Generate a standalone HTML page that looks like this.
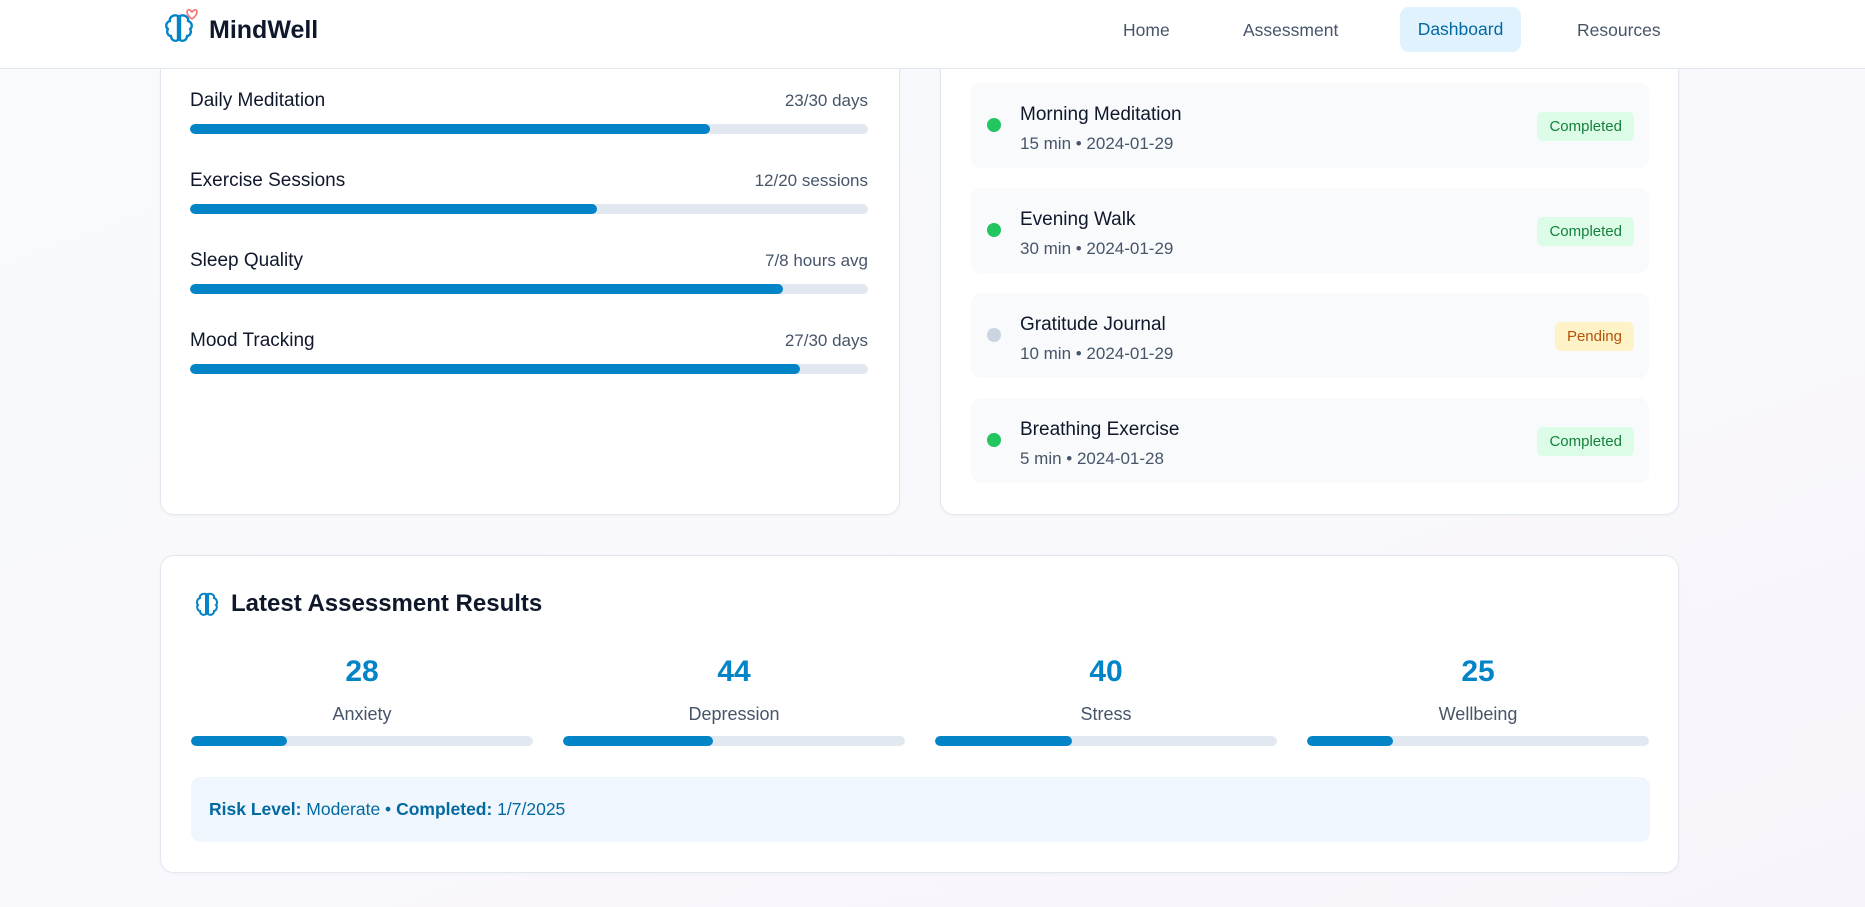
<!DOCTYPE html>
<html><head><meta charset="utf-8">
<style>
*{box-sizing:border-box;margin:0;padding:0}
body{width:1865px;height:907px;overflow:hidden;font-family:"Liberation Sans",sans-serif;background:linear-gradient(160deg,#f8fafc 0%,#f9f8fc 60%,#f8f4fb 100%);position:relative;color:#0f172a}
.abs{position:absolute}
.header{left:0;top:0;width:1865px;height:69px;background:#fff;border-bottom:1.5px solid #e2e8f0;z-index:5}
.card{background:#fff;border:1.5px solid #e2e8f0;border-radius:14px;box-shadow:0 1px 3px rgba(0,0,0,0.04)}
.lbl{font-size:19px;color:#0f172a}
.val{font-size:17px;color:#475569;text-align:right}
.track{height:10px;background:#e2e8f0;border-radius:5px;overflow:hidden}
.fill{height:100%;background:#0284c7;border-radius:5px}
.item{background:#f8fafc;border-radius:10px;left:971px;width:678px;height:85px}
.dot{width:14px;height:14px;border-radius:50%;left:16px;top:35px}
.ititle{left:49px;top:21px;font-size:19px;color:#0f172a}
.isub{left:49px;top:51px;font-size:17px;color:#475569}
.badge{top:29px;height:29px;border-radius:6px;font-size:15px;line-height:29px;padding:0 12px}
.nav{top:20px;font-size:17.5px;color:#475569}
</style></head><body>
<div class="abs" style="left:330px;top:10px;width:90px;height:50px;background:rgba(0,0,0,0.05);filter:blur(14px);border-radius:30px"></div>
<div class="abs" style="left:975px;top:15px;width:250px;height:40px;background:rgba(0,0,0,0.05);filter:blur(14px);border-radius:30px"></div>

<div class="abs header">
  <svg class="abs" style="left:161px;top:6px" width="44" height="44" viewBox="0 0 44 44">
    <path d="M17 10c-4-2-9 1-8 5-4 1-5 6-2 8-2 3 0 7 3 7 0 4 4 6 7 4V10z" fill="none" stroke="#0284c7" stroke-width="2.4" stroke-linejoin="round"/>
    <path d="M19 10c4-2 9 1 8 5 4 1 5 6 2 8 2 3 0 7-3 7 0 4-4 6-7 4V10z" fill="none" stroke="#0284c7" stroke-width="2.4" stroke-linejoin="round"/>
    <path d="M31 13c-3-2-5-5-5-7 0-2 2-3 3.5-1.5L31 6l1.5-1.5C34 3 36 4 36 6c0 2-2 5-5 7z" fill="#fff" stroke="#f87171" stroke-width="1.6"/>
  </svg>
  <div class="abs" style="left:209px;top:16px;font-size:25px;font-weight:bold;color:#0f172a">MindWell</div>
  <div class="abs nav" style="left:1123px">Home</div>
  <div class="abs nav" style="left:1243px">Assessment</div>
  <div class="abs" style="left:1400px;top:7px;width:121px;height:45px;background:#e0f2fe;border-radius:9px;color:#0369a1;font-size:17.5px;text-align:center;line-height:45px">Dashboard</div>
  <div class="abs nav" style="left:1577px">Resources</div>
</div>

<div class="abs card" style="left:160px;top:20px;width:740px;height:495px"></div>
<div class="abs card" style="left:940px;top:20px;width:739px;height:495px"></div>

<div id="goals"></div>
<div id="acts"></div>

<div class="abs card" style="left:160px;top:555px;width:1519px;height:318px">
  <svg class="abs" style="left:31px;top:34px" width="30" height="30" viewBox="0 0 30 30">
    <path d="M14 4c-3-1-7 1-6 4-3 1-4 5-2 7-2 2 0 6 2 6 0 3 3 5 6 3V4z M16 4c3-1 7 1 6 4 3 1 4 5 2 7 2 2 0 6-2 6 0 3-3 5-6 3V4z" fill="none" stroke="#0284c7" stroke-width="2"/>
  </svg>
  <div class="abs" style="left:70px;top:34px;font-size:24px;font-weight:bold;color:#0f172a">Latest Assessment Results</div>
  <div class="abs" style="left:30px;top:221px;width:1459px;height:65px;background:#eff6fe;border-radius:10px;font-size:17.5px;color:#0369a1;line-height:65px;padding-left:18px"><b>Risk Level:</b> Moderate • <b>Completed:</b> 1/7/2025</div>
</div>
<div id="scores"></div>

<script>
const goalLabels=["Daily Meditation","Exercise Sessions","Sleep Quality","Mood Tracking"];
const goalText=["23/30 days","12/20 sessions","7/8 hours avg","27/30 days"];
const goalDone=[23,12,7,27];
const goalTotal=[30,20,8,30];
const actTitles=["Morning Meditation","Evening Walk","Gratitude Journal","Breathing Exercise"];
const actSubs=["15 min • 2024-01-29","30 min • 2024-01-29","10 min • 2024-01-29","5 min • 2024-01-28"];
const actStatus=["Completed","Completed","Pending","Completed"];
const scoreLabels=["Anxiety","Depression","Stress","Wellbeing"];
const scoreValues=[28,44,40,25];

const g=document.getElementById('goals');
goalLabels.forEach((l,i)=>{
  const y=86+i*80;
  const lab=document.createElement('div');lab.className='abs lbl';lab.style.cssText=`left:190px;top:${y+4}px`;lab.textContent=l;
  
  
  const v=document.createElement('div');v.className='abs val';v.style.cssText=`left:668px;width:200px;top:${y+5}px`;v.textContent=goalText[i];
  
  
  const t=document.createElement('div');t.className='abs track';t.style.cssText=`left:190px;width:678px;top:${y+38}px`;
  
  
  const f=document.createElement('div');f.className='fill';f.style.width=(goalDone[i]/goalTotal[i]*100)+'%';
  
  
  t.appendChild(f);g.append(lab,v,t);
});
const a=document.getElementById('acts');
actTitles.forEach((tt,i)=>{
  const it=document.createElement('div');it.className='abs item';it.style.top=(83+i*105)+'px';
  
  
  const done=actStatus[i]==='Completed';
  it.innerHTML=`<div class="abs dot" style="background:${done?'#22c55e':'#cbd5e1'}"></div>
  <div class="abs ititle">${tt}</div>
  <div class="abs isub">${actSubs[i]}</div>
  <div class="abs badge" style="right:15px;background:${done?'#dcfce7':'#fef3c7'};color:${done?'#15803d':'#b45309'}">${actStatus[i]}</div>`;
  a.appendChild(it);
});
const s=document.getElementById('scores');
scoreLabels.forEach((l,i)=>{
  const x=191+i*372;
  const n=document.createElement('div');n.className='abs';n.style.cssText=`left:${x}px;width:342px;top:655px;text-align:center;font-size:30px;font-weight:bold;color:#0284c7`;n.textContent=scoreValues[i];
  
  
  const lb=document.createElement('div');lb.className='abs';lb.style.cssText=`left:${x}px;width:342px;top:704px;text-align:center;font-size:18px;color:#475569`;lb.textContent=l;
  
  
  const t=document.createElement('div');t.className='abs track';t.style.cssText=`left:${x}px;width:342px;top:736px`;
  
  
  const f=document.createElement('div');f.className='fill';f.style.width=scoreValues[i]+'%';
  
  
  t.appendChild(f);s.append(n,lb,t);
});
</script>
</body></html>
